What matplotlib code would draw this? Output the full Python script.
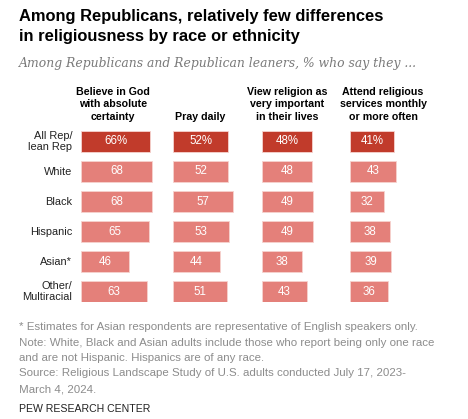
import matplotlib as mpl

mpl.use("Agg")
import matplotlib.pyplot as plt

W, H = 468, 419

groups = ["All Rep/\nlean Rep", "White", "Black", "Hispanic", "Asian*", "Other/\nMultiracial"]
headers = [
    "Believe in God\nwith absolute\ncertainty",
    "Pray daily",
    "View religion as\nvery important\nin their lives",
    "Attend religious\nservices monthly\nor more often",
]
believe_god = [66, 68, 68, 65, 46, 63]
pray_daily = [52, 52, 57, 53, 44, 51]
religion_important = [48, 48, 49, 49, 38, 43]
attend_services = [41, 43, 32, 38, 39, 36]
series = [believe_god, pray_daily, religion_important, attend_services]

notes = [
    "* Estimates for Asian respondents are representative of English speakers only.",
    "Note: White, Black and Asian adults include those who report being only one race",
    "and are not Hispanic. Hispanics are of any race.",
    "Source: Religious Landscape Study of U.S. adults conducted July 17, 2023-",
    "March 4, 2024.",
]

DARK = "#c13b2b"
LIGHT = "#e4807a"
GRAY = "#8c8c8c"
SANS = ["Liberation Sans", "DejaVu Sans"]

col_x0 = [80.7, 173.3, 261.7, 350.3]
header_cx = [113, 200, 287, 383]
px_per_unit = 1.055
row_top, row_step, bar_h = 130.7, 30.0, 21.6


def fx(x):
    return x / W


def fy(y):
    return 1 - y / H


fig = plt.figure(figsize=(W / 100, H / 100), dpi=100)

# bar panels, one per question, sharing the same px-per-point scale
span = 80
n = len(groups)
ax_top = row_top
ax_bottom = row_top + row_step * (n - 1) + bar_h
for ci, vals in enumerate(series):
    ax = fig.add_axes([fx(col_x0[ci]), fy(ax_bottom), span * px_per_unit / W, (ax_bottom - ax_top) / H])
    ax.set_xlim(0, span)
    ax.set_ylim(n - 1 + 0.5 * bar_h / row_step, -0.5 * bar_h / row_step)
    ax.axis("off")
    colors = [DARK] + [LIGHT] * (n - 1)
    ax.barh(range(n), vals, height=bar_h / row_step, color=colors,
            edgecolor="#f6d3cf", linewidth=0.6, left=0)
    for i, v in enumerate(vals):
        label = f"{v}%" if i == 0 else f"{v}"
        ax.text(v / 2, i, label, ha="center", va="center", color="white",
                fontsize=8.3, family=SANS)
    fig.text(fx(header_cx[ci]), fy(122), headers[ci], ha="center", va="bottom",
             fontsize=7.7, fontweight="bold", family=SANS, linespacing=1.32)

for i, g in enumerate(groups):
    fig.text(fx(72), fy(row_top + bar_h / 2 + i * row_step), g, ha="right", va="center",
             fontsize=7.9, family=SANS, color="#222222", linespacing=1.2)

fig.text(fx(19), fy(20.5), "Among Republicans, relatively few differences", ha="left",
         va="baseline", fontsize=11.85, fontweight="bold", family=SANS)
fig.text(fx(19), fy(40.5), "in religiousness by race or ethnicity", ha="left",
         va="baseline", fontsize=11.85, fontweight="bold", family=SANS)
fig.text(fx(19), fy(67.5), "Among Republicans and Republican leaners, % who say they ...",
         ha="left", va="baseline", fontsize=8.9, style="italic",
         family=["DejaVu Serif"], color="#7a7a7a")

for k, line in enumerate(notes):
    fig.text(fx(19), fy(330 + 15.5 * k), line, ha="left", va="baseline",
             fontsize=8.25, family=SANS, color=GRAY)
fig.text(fx(19), fy(412), "PEW RESEARCH CENTER", ha="left", va="baseline",
         fontsize=7.6, family=SANS, color="#222222")

fig.savefig("out.png", dpi=100)
